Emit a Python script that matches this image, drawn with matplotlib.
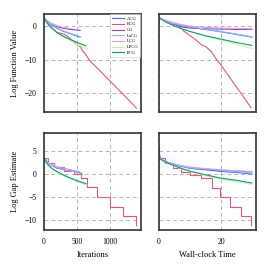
import matplotlib
matplotlib.use("Agg")
import matplotlib.pyplot as plt

# --- Data ---

labels = ["ACG", "BCG", "CG", "LaCG", "LCG", "LPCG", "PCG"]
colors = ["#4169e1", "#dc5a78", "#9b3fc0", "#8fbcf5", "#cfa3f2", "#c8f5a5", "#14967a"]

# log function value vs iterations
it_f = {
    "ACG": [0, 50, 100, 200, 300, 400, 545],
    "BCG": [0, 50, 100, 200, 300, 350, 400, 450, 500, 550, 590, 620, 667, 700, 800, 1000, 1200, 1400],
    "CG": [0, 50, 100, 200, 300, 400, 550],
    "LaCG": [0, 50, 100, 200, 300, 400, 560],
    "LCG": [0, 50, 100, 200, 300, 420],
    "LPCG": [0, 50, 100, 200, 300, 400, 500, 660],
    "PCG": [0, 50, 100, 200, 300, 400, 500, 636],
}
f_it = {
    "ACG": [2.5, 1.2, 0.4, -0.7, -1.6, -2.3, -3.3],
    "BCG": [2.5, 0.9, -0.3, -1.9, -2.4, -2.9, -3.9, -4.6, -5.6, -6.2, -7.6, -8.2, -9.6, -10.5, -12.4, -16.4, -20.4, -24.5],
    "CG": [2.5, 1.3, 0.6, -0.2, -0.7, -1.0, -1.3],
    "LaCG": [2.5, 1.3, 0.5, -0.6, -1.5, -2.2, -3.2],
    "LCG": [2.6, 1.6, 1.0, 0.1, -0.4, -0.8],
    "LPCG": [2.5, 0.8, -0.4, -2.1, -3.3, -4.4, -5.5, -6.8],
    "PCG": [2.5, 0.9, -0.3, -2.0, -3.1, -4.0, -4.9, -5.9],
}

# log function value vs wall-clock time
t_f = {
    "ACG": [0, 2, 4, 7, 10, 15, 20, 25, 30],
    "BCG": [0, 2, 4, 6.2, 8, 10.5, 12, 13.8, 15, 17, 18, 20.2, 22, 25, 27, 29.7],
    "CG": [0, 2, 4, 7, 10, 15, 20, 25, 30],
    "LaCG": [0, 2, 4, 7, 10, 15, 20, 25, 30],
    "LCG": [0, 2, 4, 7, 10, 15, 20, 25, 30],
    "LPCG": [0, 2, 4, 7, 10, 15, 20, 25, 30],
    "PCG": [0, 2, 4, 7, 10, 15, 20, 25, 30],
}
f_t = {
    "ACG": [2.5, 1.4, 0.8, 0.2, -0.3, -1.0, -1.7, -2.5, -3.3],
    "BCG": [2.5, 1.5, 0.9, 0.3, -1.5, -3.2, -4.2, -5.7, -6.1, -7.7, -9.3, -11.9, -14.3, -18.2, -20.8, -24.4],
    "CG": [2.5, 1.4, 0.6, -0.2, -0.6, -0.8, -0.9, -1.0, -1.0],
    "LaCG": [2.5, 1.5, 0.9, 0.3, -0.2, -0.9, -1.6, -2.4, -3.2],
    "LCG": [2.5, 1.8, 1.2, 0.5, 0.0, -0.4, -0.6, -0.7, -0.8],
    "LPCG": [2.5, 1.3, 0.4, -0.7, -1.6, -3.0, -4.2, -5.4, -6.7],
    "PCG": [2.5, 1.3, 0.4, -0.7, -1.6, -2.9, -3.9, -4.9, -5.8],
}

# log gap estimate vs iterations
it_g = {
    "ACG": [0, 40, 80, 120, 160, 200, 250, 300, 350, 400, 450, 500, 550, 575],
    "BCG": [0, 60, 150, 300, 450, 560, 645, 798, 1000, 1202, 1395, 1395],
    "CG": [0, 40, 80, 120, 160, 200, 250, 300, 350, 400, 450, 500],
    "LaCG": [0, 40, 80, 120, 160, 200, 260, 320, 380, 440, 500, 560],
    "LCG": [0, 40, 80, 120, 160, 200, 260, 320, 380, 440, 500, 520],
    "LPCG": [0, 30, 60, 100, 150, 200, 300, 400, 500, 650],
    "PCG": [0, 30, 60, 100, 150, 200, 300, 400, 500, 636],
}
g_it = {
    "ACG": [3.6, 2.8, 2.1, 1.9, 1.5, 1.5, 1.1, 1.2, 0.8, 0.9, 0.5, 0.6, 0.2, 0.1],
    "BCG": [3.5, 2.4, 1.5, 0.6, -0.1, -0.9, -2.8, -5.1, -7.1, -9.1, -9.1, -11.1],
    "CG": [3.5, 2.7, 2.2, 1.8, 1.6, 1.2, 1.3, 0.9, 1.0, 0.6, 0.7, 0.3],
    "LaCG": [3.5, 2.9, 2.0, 2.1, 1.4, 1.6, 1.0, 1.1, 0.6, 0.7, 0.2, 0.1],
    "LCG": [3.5, 2.6, 2.3, 1.7, 1.9, 1.3, 1.5, 0.9, 1.0, 0.5, 0.6, 0.3],
    "LPCG": [3.4, 2.5, 1.9, 1.2, 0.7, 0.3, -0.5, -1.1, -1.7, -2.4],
    "PCG": [3.5, 2.6, 2.0, 1.4, 0.9, 0.5, -0.3, -0.9, -1.5, -2.1],
}

# log gap estimate vs wall-clock time
t_g = {
    "ACG": [0, 0.3, 1, 2, 4, 6, 8, 10, 13, 16, 19, 22, 25, 28, 30],
    "BCG": [0, 2, 4.5, 7, 10, 13.5, 17.2, 19.7, 22.9, 26.5, 29.7, 29.7],
    "CG": [0, 1, 2, 4, 6, 8, 10, 13, 16, 19, 22, 25, 28, 30],
    "LaCG": [0, 2, 4, 7, 10, 14, 18, 22, 26, 30],
    "LCG": [0, 2, 4, 7, 10, 14, 18, 22, 26, 30],
    "LPCG": [0, 1, 2, 4, 6, 8, 10.5, 15, 19.7, 25, 30],
    "PCG": [0, 1, 2, 4, 6, 8, 10.5, 15, 19.7, 25, 30],
}
g_t = {
    "ACG": [5.7, 3.6, 3.1, 2.7, 2.2, 1.8, 1.5, 1.2, 1.0, 0.8, 0.6, 0.4, 0.3, 0.1, -0.1],
    "BCG": [3.5, 2.3, 1.2, 0.3, -0.2, -0.9, -3.0, -5.1, -7.1, -9.1, -9.1, -11.2],
    "CG": [3.6, 3.0, 2.6, 2.2, 1.9, 1.6, 1.3, 1.1, 1.0, 0.8, 0.7, 0.6, 0.5, 0.4],
    "LaCG": [3.5, 2.6, 2.1, 1.7, 1.3, 1.1, 0.9, 0.6, 0.4, 0.2],
    "LCG": [3.6, 2.7, 2.3, 1.8, 1.5, 1.2, 1.0, 0.8, 0.6, 0.5],
    "LPCG": [3.4, 2.9, 2.5, 1.9, 1.4, 0.9, 0.4, -0.4, -1.1, -1.7, -2.3],
    "PCG": [3.5, 3.0, 2.6, 2.0, 1.5, 1.0, 0.5, -0.2, -0.9, -1.4, -2.0],
}

xticks_it = [0, 500, 1000]
xticks_t = [0, 20]
yticks_f = [0, -10, -20]
yticks_g = [5, 0, -5, -10]

# --- Plot ---

plt.rcParams["font.family"] = ["Liberation Serif", "DejaVu Serif"]

fig = plt.figure(figsize=(2.7, 2.7), dpi=100)
ax_tl = fig.add_axes([0.163, 0.585, 0.359, 0.363])
ax_tr = fig.add_axes([0.589, 0.585, 0.359, 0.363])
ax_bl = fig.add_axes([0.163, 0.148, 0.359, 0.360])
ax_br = fig.add_axes([0.589, 0.148, 0.359, 0.360])

panels = [
    (ax_tl, it_f, f_it, False),
    (ax_tr, t_f, f_t, False),
    (ax_bl, it_g, g_it, True),
    (ax_br, t_g, g_t, True),
]

for ax, xs, ys, is_gap in panels:
    for name, col in zip(labels, colors):
        style = "steps-post" if (is_gap and name == "BCG") else "default"
        ax.plot(xs[name], ys[name], color=col, lw=0.8, label=name, drawstyle=style)
    ax.grid(True, color="#b4b4b4", linestyle=(0, (4, 3)), lw=0.7)
    ax.tick_params(length=0, labelsize=5.5, pad=5.5)
    for sp in ax.spines.values():
        sp.set_color("#333333")
        sp.set_linewidth(1.2)

for ax in (ax_tl, ax_bl):
    ax.set_xlim(0, 1470)
    ax.set_xticks(xticks_it)
for ax in (ax_tr, ax_br):
    ax.set_xlim(0, 31.3)
    ax.set_xticks(xticks_t)
for ax in (ax_tl, ax_tr):
    ax.set_ylim(-25.7, 3.6)
    ax.set_yticks(yticks_f)
    ax.tick_params(labelbottom=False)
for ax in (ax_bl, ax_br):
    ax.set_ylim(-12.2, 8.9)
    ax.set_yticks(yticks_g)
for ax in (ax_tr, ax_br):
    ax.tick_params(labelleft=False)

ax_tl.set_ylabel("Log Function Value", fontsize=6)
ax_bl.set_ylabel("Log Gap Estimate", fontsize=6)
ax_bl.set_xlabel("Iterations", fontsize=6)
ax_br.set_xlabel("Wall-clock Time", fontsize=6)

leg = ax_tl.legend(loc="upper right", fontsize=3.3, handlelength=2.6, borderaxespad=0.1,
                   labelspacing=0.32, frameon=True, fancybox=False, borderpad=0.45,
                   handletextpad=0.6)
leg.get_frame().set_edgecolor("#cccccc")
leg.get_frame().set_linewidth(0.5)

fig.savefig("out.png", dpi=100)
